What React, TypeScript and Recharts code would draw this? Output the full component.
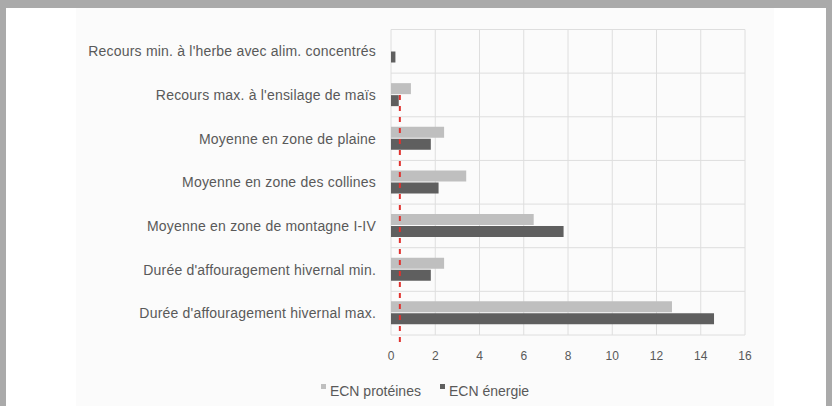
import { BarChart, Bar, XAxis, YAxis, CartesianGrid, Legend, ReferenceLine } from "recharts";

const categories = [
  "Recours min. à l'herbe avec alim. concentrés",
  "Recours max. à l'ensilage de maïs",
  "Moyenne en zone de plaine",
  "Moyenne en zone des collines",
  "Moyenne en zone de montagne I-IV",
  "Durée d'affouragement hivernal min.",
  "Durée d'affouragement hivernal max.",
];

const ecnProteines = [0, 0.9, 2.4, 3.4, 6.45, 2.4, 12.7];
const ecnEnergie = [0.2, 0.35, 1.8, 2.15, 7.8, 1.8, 14.6];

const xTicks = [0, 2, 4, 6, 8, 10, 12, 14, 16];

// seuil shown as a dashed red line, starting at the centre of the 2nd category
const seuil = 0.4;
const seuilStartBand = 1.5;

const data = categories.map((name, i) => ({
  name,
  proteines: ecnProteines[i],
  energie: ecnEnergie[i],
}));

const textColor = "#595959";
const gridColor = "#dedede";

// clips the full-height reference line so it starts at the given category
// and runs a little past the x axis
const SeuilLine = (props: any) => {
  const top = Math.min(props.y1, props.y2);
  const bottom = Math.max(props.y1, props.y2);
  const band = (bottom - top) / categories.length;
  return (
    <line
      x1={props.x1}
      x2={props.x2}
      y1={top + band * seuilStartBand}
      y2={bottom + 7}
      stroke="#e0322e"
      strokeWidth={2}
      strokeDasharray="5 6"
    />
  );
};

const LegendContent = (props: any) => {
  const items = props.payload || [];
  return (
    <div
      style={{
        display: "flex",
        justifyContent: "center",
        alignItems: "center",
        height: 24,
        gap: 19,
        fontFamily: "'Liberation Sans', Arial, sans-serif",
        fontSize: 14,
        color: textColor,
      }}
    >
      {items.map((item: any) => (
        <div key={item.value} style={{ display: "flex", alignItems: "flex-start" }}>
          <span
            style={{
              width: 5,
              height: 5,
              marginTop: 1,
              marginRight: 4,
              background: item.color,
              display: "inline-block",
            }}
          />
          <span style={{ lineHeight: "16px" }}>{item.value}</span>
        </div>
      ))}
    </div>
  );
};

const App = () => {
  const n = categories.length;
  return (
    <div style={{ position: "absolute", left: 0, top: 0, width: 832, height: 406, background: "#aaaaaa" }}>
      <div style={{ position: "absolute", left: 6, top: 8, width: 820, height: 398, background: "#ffffff" }} />
      <div style={{ position: "absolute", left: 76, top: 8, width: 698, height: 398, background: "#fbfbfb" }}>
        <BarChart
          width={698}
          height={398}
          data={data}
          layout="vertical"
          barSize={11}
          barGap={1}
          margin={{ top: 21.5, right: 29, bottom: 3, left: 0 }}
        >
          <CartesianGrid
            stroke={gridColor}
            horizontalCoordinatesGenerator={({ offset }: any) =>
              Array.from({ length: n + 1 }, (_, i) => offset.top + (i * offset.height) / n)
            }
          />
          <XAxis
            type="number"
            domain={[0, 16]}
            ticks={xTicks}
            axisLine={false}
            tickLine={false}
            tickSize={0}
            tickMargin={16}
            height={44}
            tick={{ fill: textColor, fontSize: 12, fontFamily: "'Liberation Sans', Arial, sans-serif" }}
          />
          <YAxis
            type="category"
            dataKey="name"
            width={315}
            axisLine={false}
            tickLine={false}
            tickSize={0}
            tickMargin={15}
            interval={0}
            tick={{
              fill: textColor,
              fontSize: 14,
              letterSpacing: 0.2,
              fontFamily: "'Liberation Sans', Arial, sans-serif",
            }}
          />
          <Bar dataKey="proteines" name="ECN protéines" fill="#bfbfbf" isAnimationActive={false} />
          <Bar dataKey="energie" name="ECN énergie" fill="#5f5f5f" isAnimationActive={false} />
          <ReferenceLine x={seuil} ifOverflow="visible" shape={SeuilLine} />
          <Legend
            verticalAlign="bottom"
            wrapperStyle={{ left: 0, width: 698 }}
            content={<LegendContent />}
          />
        </BarChart>
      </div>
    </div>
  );
};

export default App;
